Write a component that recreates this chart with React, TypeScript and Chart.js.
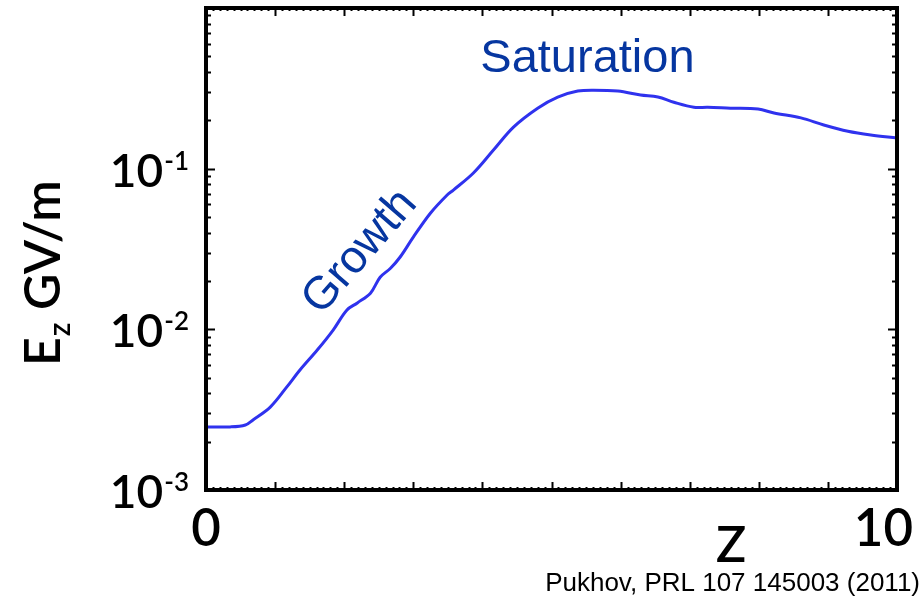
import React, { useEffect, useRef } from "react";
import { Chart, registerables } from "chart.js";

Chart.register(...registerables);

// z positions and field amplitude Ez (GV/m)
const zValues = [0.0, 0.35, 0.57, 0.68, 0.93, 1.17, 1.36, 1.61, 1.84, 2.04, 2.19, 2.38, 2.52, 2.67, 2.81, 3.0, 3.25, 3.49, 3.58, 3.87, 4.16, 4.45, 4.8, 5.09, 5.38, 5.61, 5.96, 6.29, 6.54, 6.77, 7.06, 7.26, 7.59, 7.99, 8.22, 8.61, 8.94, 9.29, 9.62, 10.0];
const ezValues = [0.00247, 0.00247, 0.00254, 0.00273, 0.00328, 0.00438, 0.00558, 0.00743, 0.0099, 0.0132, 0.0146, 0.0168, 0.0211, 0.024, 0.0282, 0.0375, 0.053, 0.0686, 0.0736, 0.094, 0.1306, 0.1815, 0.238, 0.279, 0.304, 0.308, 0.304, 0.287, 0.279, 0.259, 0.241, 0.241, 0.238, 0.235, 0.222, 0.207, 0.187, 0.171, 0.162, 0.155];

const yTickValues = [0.001, 0.01, 0.1];
const yTickExponents = ["-3", "-2", "-1"];
const xTickValues = [0, 10];
const xTickLabels = ["0", "10"];
const yTitleMain = "E";
const yTitleSub = "z";
const yTitleRest = " GV/m";
const xTitle = "Z";
const citation = "Pukhov, PRL 107 145003 (2011)";
const growthLabel = { text: "Growth", z: 2.23, ez: 0.0303 };
const saturationLabel = { text: "Saturation", z: 3.97, ez: 0.399 };

const LABEL_FONT = "Lato, 'Open Sans', sans-serif";
const LABEL_WEIGHT = "600";
const ANNOT_FONT = "'Liberation Sans', Arial, sans-serif";
const ANNOT_COLOR = "#0636a0";

const framePlugin = {
  id: "frameAndLabels",
  afterDraw(chart: any) {
    const { ctx, chartArea, scales } = chart;
    const { left, right, top, bottom } = chartArea;
    const xs = scales.x;
    const ys = scales.y;
    ctx.save();
    // ticks
    ctx.strokeStyle = "#000";
    ctx.lineWidth = 2;
    ctx.beginPath();
    for (let i = 0; i <= 100; i++) {
      const px = Math.round(xs.getPixelForValue(i / 10)) + 0.5;
      const len = i % 10 === 0 ? 8 : 3;
      ctx.moveTo(px, bottom);
      ctx.lineTo(px, bottom - len);
      ctx.moveTo(px, top);
      ctx.lineTo(px, top + len);
    }
    for (let d = -3; d <= -1; d++) {
      for (let k = 1; k <= 9; k++) {
        const v = k * Math.pow(10, d);
        const py = Math.round(ys.getPixelForValue(v)) + 0.5;
        const len = k === 1 ? 9 : 5;
        ctx.moveTo(left, py);
        ctx.lineTo(left + len, py);
        ctx.moveTo(right, py);
        ctx.lineTo(right - len, py);
      }
    }
    ctx.stroke();
    // frame
    ctx.lineWidth = 4;
    ctx.strokeRect(left, top, right - left, bottom - top);

    // y tick labels
    ctx.fillStyle = "#000";
    ctx.textBaseline = "alphabetic";
    yTickValues.forEach((v, i) => {
      const py = ys.getPixelForValue(v);
      ctx.font = `${LABEL_WEIGHT} 46px ${LABEL_FONT}`;
      const baseW = ctx.measureText("10").width;
      ctx.font = `${LABEL_WEIGHT} 26px ${LABEL_FONT}`;
      const supW = ctx.measureText(yTickExponents[i]).width;
      const rightEdge = left - 18;
      const x0 = rightEdge - supW - baseW;
      const baseline = py + 18;
      ctx.font = `${LABEL_WEIGHT} 46px ${LABEL_FONT}`;
      ctx.textAlign = "left";
      ctx.fillText("10", x0, baseline);
      ctx.font = `${LABEL_WEIGHT} 26px ${LABEL_FONT}`;
      ctx.fillText(yTickExponents[i], x0 + baseW + 1, baseline - 17);
    });

    // x tick labels
    ctx.font = `${LABEL_WEIGHT} 51px ${LABEL_FONT}`;
    ctx.textAlign = "center";
    xTickValues.forEach((v, i) => {
      const w = ctx.measureText(xTickLabels[i]).width;
      let px = xs.getPixelForValue(v);
      px = Math.min(px, chart.width - 11 - w / 2);
      ctx.fillText(xTickLabels[i], px, bottom + 56);
    });

    // x title
    ctx.font = `${LABEL_WEIGHT} 50px ${LABEL_FONT}`;
    ctx.textAlign = "center";
    ctx.fillText(xTitle, xs.getPixelForValue(7.6), bottom + 72);

    // y title rotated
    ctx.save();
    ctx.translate(60, 366);
    ctx.rotate(-Math.PI / 2);
    ctx.textAlign = "left";
    ctx.font = `${LABEL_WEIGHT} 50px ${LABEL_FONT}`;
    ctx.fillText(yTitleMain, 0, 0);
    let off = ctx.measureText(yTitleMain).width + 1;
    ctx.font = `${LABEL_WEIGHT} 30px ${LABEL_FONT}`;
    ctx.fillText(yTitleSub, off, 10);
    off += ctx.measureText(yTitleSub).width;
    ctx.font = `${LABEL_WEIGHT} 50px ${LABEL_FONT}`;
    ctx.fillText(yTitleRest, off, 0);
    ctx.restore();

    // annotations
    ctx.fillStyle = ANNOT_COLOR;
    ctx.font = `47px ${ANNOT_FONT}`;
    ctx.textAlign = "left";
    ctx.textBaseline = "alphabetic";
    ctx.fillText(
      saturationLabel.text,
      xs.getPixelForValue(saturationLabel.z),
      ys.getPixelForValue(saturationLabel.ez)
    );
    ctx.save();
    ctx.translate(
      xs.getPixelForValue(growthLabel.z),
      ys.getPixelForValue(growthLabel.ez)
    );
    ctx.rotate((-49 * Math.PI) / 180);
    ctx.textAlign = "center";
    ctx.textBaseline = "middle";
    ctx.font = `46px ${ANNOT_FONT}`;
    ctx.fillText(growthLabel.text, 0, 0);
    ctx.restore();

    // citation
    ctx.fillStyle = "#000";
    ctx.font = `26px ${ANNOT_FONT}`;
    ctx.textAlign = "right";
    ctx.fillText(citation, chart.width - 4, chart.height - 15);
    ctx.restore();
  },
};

export default function App() {
  const canvasRef = useRef<HTMLCanvasElement | null>(null);
  useEffect(() => {
    if (!canvasRef.current) return;
    const chart = new Chart(canvasRef.current, {
      type: "line",
      data: {
        datasets: [
          {
            data: zValues.map((z, i) => ({ x: z, y: ezValues[i] })),
            borderColor: "#2f32ee",
            borderWidth: 3,
            pointRadius: 0,
            tension: 0.35,
            fill: false,
          },
        ],
      },
      options: {
        animation: false,
        responsive: false,
        events: [],
        layout: { padding: { left: 206, top: 8, right: 27, bottom: 116 } },
        plugins: { legend: { display: false }, tooltip: { enabled: false } },
        scales: {
          x: { type: "linear", min: 0, max: 10, display: false },
          y: { type: "logarithmic", min: 0.001, max: 1, display: false },
        },
      },
      plugins: [framePlugin],
    });
    return () => chart.destroy();
  }, []);
  return (
    <div style={{ position: "absolute", left: 0, top: 0, width: 924, height: 606, background: "#fff" }}>
      <canvas ref={canvasRef} width={924} height={606} />
    </div>
  );
}
